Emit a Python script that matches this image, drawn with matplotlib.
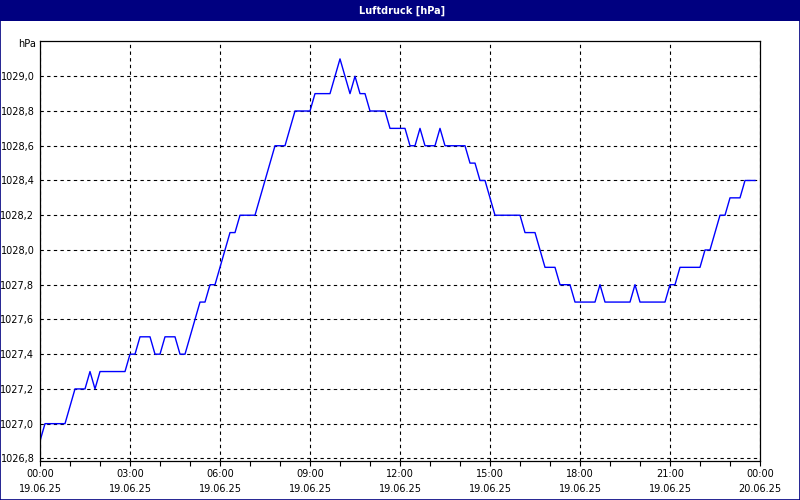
import matplotlib
matplotlib.use("Agg")
import matplotlib.pyplot as plt
from matplotlib.patches import Rectangle

# Messwerte (Uhrzeit, Luftdruck in hPa) am 19.06.25
times = ["00:00", "00:10", "00:50", "01:10", "01:30", "01:40", "01:50", "02:00",
         "02:50", "03:00", "03:10", "03:20", "03:40", "03:50", "04:00", "04:10",
         "04:30", "04:40", "04:50", "05:20", "05:30", "05:40", "05:50", "06:20",
         "06:30", "06:40", "07:10", "07:50", "08:10", "08:30", "09:00", "09:10",
         "09:40", "10:00", "10:20", "10:30", "10:40", "10:50", "11:00", "11:30",
         "11:40", "12:10", "12:20", "12:30", "12:40", "12:50", "13:10", "13:20",
         "13:30", "14:10", "14:20", "14:30", "14:40", "14:50", "15:10", "16:00",
         "16:10", "16:30", "16:50", "17:10", "17:20", "17:40", "17:50", "18:30",
         "18:40", "18:50", "19:40", "19:50", "20:00", "20:50", "21:00", "21:10",
         "21:20", "22:00", "22:10", "22:20", "22:40", "22:50", "23:00", "23:20",
         "23:30", "23:50"]
pressure = [1026.9, 1027.0, 1027.0, 1027.2, 1027.2, 1027.3, 1027.2, 1027.3,
            1027.3, 1027.4, 1027.4, 1027.5, 1027.5, 1027.4, 1027.4, 1027.5,
            1027.5, 1027.4, 1027.4, 1027.7, 1027.7, 1027.8, 1027.8, 1028.1,
            1028.1, 1028.2, 1028.2, 1028.6, 1028.6, 1028.8, 1028.8, 1028.9,
            1028.9, 1029.1, 1028.9, 1029.0, 1028.9, 1028.9, 1028.8, 1028.8,
            1028.7, 1028.7, 1028.6, 1028.6, 1028.7, 1028.6, 1028.6, 1028.7,
            1028.6, 1028.6, 1028.5, 1028.5, 1028.4, 1028.4, 1028.2, 1028.2,
            1028.1, 1028.1, 1027.9, 1027.9, 1027.8, 1027.8, 1027.7, 1027.7,
            1027.8, 1027.7, 1027.7, 1027.8, 1027.7, 1027.7, 1027.8, 1027.8,
            1027.9, 1027.9, 1028.0, 1028.0, 1028.2, 1028.2, 1028.3, 1028.3,
            1028.4, 1028.4]

x_labels = ["00:00\n19.06.25", "03:00\n19.06.25", "06:00\n19.06.25", "09:00\n19.06.25",
            "12:00\n19.06.25", "15:00\n19.06.25", "18:00\n19.06.25", "21:00\n19.06.25",
            "00:00\n20.06.25"]
y_ticks = [1026.8, 1027.0, 1027.2, 1027.4, 1027.6, 1027.8, 1028.0, 1028.2,
           1028.4, 1028.6, 1028.8, 1029.0]

hours = [int(t[:2]) + int(t[3:]) / 60 for t in times]

plt.rcParams['font.family'] = ['DejaVu Sans']
navy = '#000080'

fig = plt.figure(figsize=(8, 5), dpi=100)
fig.patch.set_facecolor('white')

# Titelleiste und Rahmen
fig.patches.append(Rectangle((0, 479 / 500), 1, 21 / 500, transform=fig.transFigure,
                             facecolor=navy, edgecolor='none', zorder=0))
fig.patches.append(Rectangle((0.0006, 0.001), 0.9988, 0.998, transform=fig.transFigure,
                             facecolor='none', edgecolor=navy, linewidth=1.2, zorder=5))
fig.text(0.502, 1 - 10.5 / 500, 'Luftdruck [hPa]', color='white', fontsize=7,
         fontweight='bold', ha='center', va='center')

ax = fig.add_axes([40 / 800, 39 / 500, 720 / 800, 420 / 500])
ax.plot(hours, pressure, color='#0000FF', linewidth=1.0)

ax.set_xlim(0, 24)
ax.set_ylim(1026.785, 1029.203)

ax.set_xticks(range(0, 25, 3))
ax.set_xticklabels(x_labels, fontsize=7, linespacing=1.65)
ax.set_xticks(range(0, 25), minor=True)
ax.set_yticks(y_ticks)
ax.set_yticklabels([f"{v:.1f}".replace('.', ',') for v in y_ticks], fontsize=7)

ax.tick_params(axis='x', which='both', direction='out', length=3.5, width=0.8, pad=2)
ax.tick_params(axis='y', length=0, pad=4)
ax.grid(True, color='black', linestyle=(0, (3, 3)), linewidth=0.8)
for s in ax.spines.values():
    s.set_color('black')
    s.set_linewidth(0.9)

fig.text(36 / 800, 1 - 44 / 500, 'hPa', fontsize=7, ha='right', va='center')

fig.savefig('out.png', dpi=100)
